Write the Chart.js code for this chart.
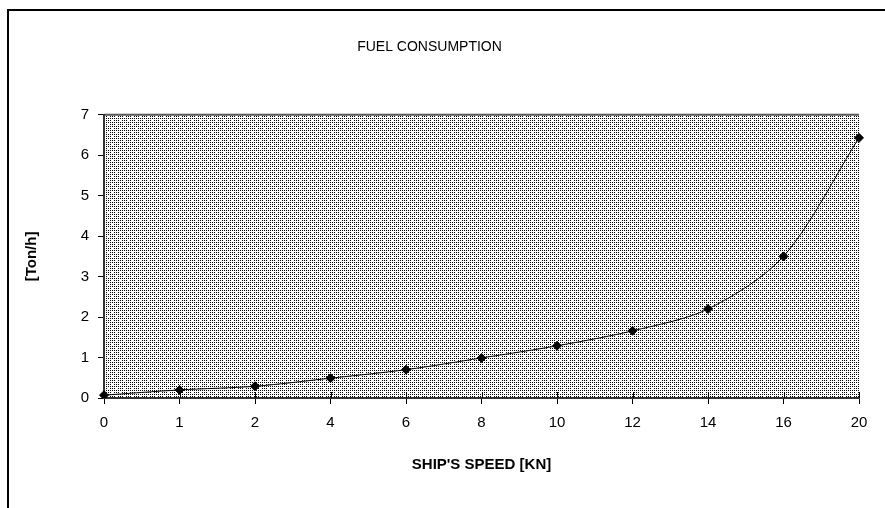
<!DOCTYPE html>
<html>
<head>
<meta charset="utf-8">
<script src="https://cdn.jsdelivr.net/npm/chart.js@4"></script>
<style>
    html, body { margin: 0; padding: 0; background: #fff; }
    #wrap { width: 885px; height: 508px; position: relative; }
</style>
</head>
<body>
<div id="wrap"><canvas id="graficoConsumo"></canvas></div>
<script>
// velocidade do navio (nós) e consumo (t/h)
const velocidades = ['0', '1', '2', '4', '6', '8', '10', '12', '14', '16', '20'];
const consumo = [0.07, 0.2, 0.29, 0.49, 0.7, 0.99, 1.29, 1.66, 2.2, 3.5, 6.43];
const ticksY = [0, 1, 2, 3, 4, 5, 6, 7];

// padrão pontilhado do fundo da área do gráfico
function criarPadrao() {
    const c = document.createElement('canvas');
    c.width = 8;
    c.height = 8;
    const g = c.getContext('2d');
    g.fillStyle = '#fff';
    g.fillRect(0, 0, 8, 8);
    g.fillStyle = '#000';
    for (let y = 0; y < 8; y += 2) {
        for (let x = 0; x < 8; x += 2) {
            if ((x === 0 && y === 0) || (x === 4 && y === 4)) continue;
            g.fillRect(x, y, 1, 1);
        }
    }
    return g.createPattern(c, 'repeat');
}

const fundoPlugin = {
    id: 'fundo',
    beforeDraw(chart) {
        const ctx = chart.ctx;
        const a = chart.chartArea;
        ctx.save();
        ctx.fillStyle = '#fff';
        ctx.fillRect(0, 0, chart.width, chart.height);
        ctx.fillStyle = criarPadrao();
        ctx.fillRect(a.left, a.top, a.right - a.left, a.bottom - a.top);
        // linha superior da área
        ctx.strokeStyle = '#555';
        ctx.lineWidth = 2;
        ctx.beginPath();
        ctx.moveTo(a.left, a.top);
        ctx.lineTo(a.right, a.top);
        ctx.stroke();
        // moldura externa
        ctx.strokeStyle = '#000';
        ctx.lineWidth = 2;
        ctx.beginPath();
        ctx.moveTo(8, chart.height + 2);
        ctx.lineTo(8, 10);
        ctx.lineTo(chart.width + 2, 10);
        ctx.stroke();
        ctx.restore();
    }
};

// marcas do eixo X que cruzam a linha do eixo
const marcasPlugin = {
    id: 'marcas',
    afterDatasetsDraw(chart) {
        const ctx = chart.ctx;
        const x = chart.scales.x;
        const a = chart.chartArea;
        ctx.save();
        ctx.strokeStyle = '#000';
        ctx.lineWidth = 1;
        velocidades.forEach((v, i) => {
            const px = Math.round(x.getPixelForValue(i)) + 0.5;
            ctx.beginPath();
            ctx.moveTo(px, a.bottom - 6);
            ctx.lineTo(px, a.bottom);
            ctx.stroke();
        });
        ctx.restore();
    }
};

const fonte = { family: 'Liberation Sans, Arial', size: 15 };
const fonteTitulo = { family: 'Liberation Sans, Arial', size: 15, weight: 'bold' };

const ctx = document.getElementById('graficoConsumo');

new Chart(ctx, {
    type: 'line',
    data: {
        labels: velocidades,
        datasets: [{
            label: 'Consumo',
            data: consumo,
            borderColor: '#000',
            borderWidth: 1,
            backgroundColor: '#000',
            pointStyle: 'rectRot',
            pointRadius: 4.5,
            pointBackgroundColor: '#000',
            pointBorderColor: '#000',
            tension: 0.3,
            fill: false
        }]
    },
    options: {
        responsive: true,
        maintainAspectRatio: false,
        animation: false,
        layout: {
            padding: { left: 0, right: 26, top: 0, bottom: 20 }
        },
        plugins: {
            legend: { display: false },
            tooltip: { enabled: false },
            title: {
                display: true,
                text: 'FUEL CONSUMPTION',
                color: '#000',
                font: { family: 'Liberation Sans, Arial', size: 14, weight: 'normal' },
                padding: { top: 39, bottom: 59 }
            }
        },
        scales: {
            y: {
                min: 0,
                max: 7,
                afterFit: s => { s.width = 104; },
                afterBuildTicks: s => { s.ticks = ticksY.map(v => ({ value: v })); },
                ticks: {
                    color: '#000',
                    padding: 9,
                    font: fonte
                },
                grid: {
                    drawOnChartArea: false,
                    drawTicks: true,
                    tickLength: 6,
                    color: '#000'
                },
                border: { color: '#333', width: 2 },
                title: {
                    display: true,
                    text: '[Ton/h]',
                    color: '#000',
                    font: fonteTitulo,
                    padding: { top: 23, bottom: 0 }
                }
            },
            x: {
                offset: false,
                afterFit: s => { s.height = 90; },
                ticks: {
                    color: '#000',
                    padding: 10,
                    maxRotation: 0,
                    autoSkip: false,
                    font: fonte
                },
                grid: {
                    drawOnChartArea: false,
                    drawTicks: true,
                    tickLength: 6,
                    color: '#000'
                },
                border: { color: '#333', width: 2 },
                title: {
                    display: true,
                    text: "SHIP'S SPEED [KN]",
                    color: '#000',
                    font: fonteTitulo,
                    padding: { top: 0, bottom: 14 }
                }
            }
        }
    },
    plugins: [fundoPlugin, marcasPlugin]
});
</script>
</body>
</html>
